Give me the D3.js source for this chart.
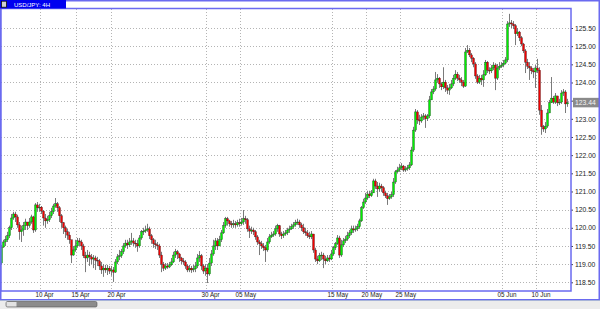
<!DOCTYPE html>
<html>
  <head>
    <meta charset="utf-8">
    <title>USD/JPY 4H</title>
    <style>
      body {
        overflow: hidden;
        margin: 0px;
        background: white;
      }

      .grid {
        stroke: #b4b4b4;
        stroke-width: 1px;
        stroke-dasharray: 1,2;
        shape-rendering: crispEdges;
      }

      .frame {
        fill: none;
        stroke: #6a6af0;
        stroke-width: 1.5px;
      }

      .axis text {
        font-family: "Liberation Sans", Arial, sans-serif;
        fill: #222;
      }

      .axis path, .axis line {
        stroke: #444;
      }

      .wick {
        stroke: #7a7a7a;
        stroke-width: 1px;
      }

      .body {
        stroke: #1a1a1a;
        stroke-width: 0.3px;
      }
    </style>
  </head>
  <body>
    <svg id="container" width="600" height="309"></svg>
    <script src="https://cdn.jsdelivr.net/npm/d3@7/dist/d3.min.js"></script>

    <script type="text/javascript">
      var firstOpen = 119.03;

      // 4H closes, 7 Apr - 12 Jun
      var closes = [
        119.47,119.61,119.67,119.78,120.00,120.27,120.38,120.30,120.08,119.89,
        119.94,120.06,120.16,120.06,120.16,120.30,119.94,120.63,120.55,120.57,
        120.46,120.27,120.19,120.22,120.33,120.44,120.60,120.66,120.55,120.33,
        120.14,120.00,119.89,119.80,119.67,119.25,119.39,119.50,119.64,119.61,
        119.50,119.23,119.17,119.25,119.20,119.14,119.17,119.11,119.09,118.95,
        118.84,118.89,118.84,118.89,118.81,118.84,118.78,119.06,119.20,119.23,
        119.34,119.50,119.58,119.53,119.61,119.64,119.58,119.56,119.50,119.72,
        119.89,119.91,119.94,119.97,119.78,119.67,119.56,119.53,119.50,119.25,
        119.00,118.89,118.95,118.92,118.98,119.06,119.25,119.34,119.28,119.17,
        119.09,119.06,118.95,118.84,118.89,118.84,118.87,118.95,119.17,119.23,
        118.95,118.81,118.89,118.73,119.03,119.28,119.50,119.64,119.50,119.67,
        119.86,120.06,120.25,120.19,120.11,120.08,120.11,120.08,120.14,120.11,
        120.16,120.25,120.22,119.97,119.91,119.94,119.89,119.75,119.61,119.56,
        119.50,119.45,119.39,119.61,119.75,119.80,119.83,119.97,120.06,119.83,
        119.78,119.83,119.86,119.94,119.97,120.03,120.08,120.14,120.16,120.08,
        120.00,119.89,119.86,119.78,119.75,119.83,119.39,119.14,119.09,119.23,
        119.25,119.14,119.09,119.17,119.14,119.28,119.45,119.56,119.72,119.25,
        119.53,119.64,119.69,119.78,119.86,119.97,119.94,119.97,120.03,120.19,
        120.55,120.71,120.82,120.93,120.88,120.96,121.29,121.15,121.07,121.15,
        121.10,120.96,120.88,120.80,120.85,120.91,121.26,121.54,121.59,121.65,
        121.70,121.59,121.62,121.65,121.73,122.14,122.69,123.19,122.97,122.94,
        123.05,123.08,123.00,123.08,123.52,123.74,123.82,124.07,124.12,123.96,
        123.88,124.01,123.85,123.79,123.85,123.96,124.12,124.23,124.12,124.07,
        124.01,123.90,124.84,124.89,124.76,124.67,124.51,124.18,124.01,124.12,
        124.07,124.21,124.56,124.34,124.32,124.40,124.48,124.12,124.40,124.45,
        124.48,124.53,124.62,125.61,125.64,125.61,125.56,125.34,125.39,125.23,
        125.06,124.87,124.56,124.45,124.40,124.32,124.29,124.40,124.34,123.24,
        122.78,122.72,122.80,123.16,123.44,123.57,123.46,123.63,123.44,123.46,
        123.71,123.74,123.41,123.44
      ];

      var highs = [
        119.53,119.67,119.78,119.89,120.06,120.38,120.44,120.44,120.36,120.16,
        120.06,120.16,120.25,120.16,120.27,120.36,120.33,120.68,120.71,120.66,
        120.60,120.49,120.38,120.33,120.44,120.55,120.66,120.82,120.71,120.60,
        120.38,120.16,120.06,119.97,119.89,119.67,119.50,119.67,119.72,119.72,
        119.67,119.56,119.34,119.39,119.34,119.28,119.25,119.23,119.20,119.14,
        119.06,119.00,118.98,118.98,118.95,118.95,118.92,119.14,119.28,119.39,
        119.42,119.58,119.67,119.67,119.72,119.86,119.72,119.67,119.67,119.80,
        119.94,120.00,120.06,120.11,120.03,119.83,119.72,119.67,119.61,119.56,
        119.34,119.06,119.03,119.03,119.06,119.17,119.34,119.42,119.39,119.31,
        119.20,119.17,119.11,119.00,118.98,118.95,118.98,119.06,119.28,119.36,
        119.28,119.00,119.00,119.00,119.17,119.39,119.67,119.72,119.72,119.78,
        119.94,120.16,120.30,120.30,120.22,120.19,120.22,120.19,120.22,120.25,
        120.27,120.49,120.33,120.27,120.06,120.03,120.00,119.94,119.80,119.67,
        119.64,119.58,119.53,119.72,119.83,119.89,119.91,120.06,120.11,120.08,
        119.89,119.91,119.94,120.00,120.06,120.11,120.16,120.22,120.25,120.22,
        120.14,120.11,120.00,119.94,119.89,119.91,119.78,119.45,119.23,119.31,
        119.34,119.31,119.23,119.25,119.25,119.39,119.50,119.61,119.80,119.78,
        119.67,119.72,119.78,119.89,119.94,120.06,120.06,120.06,120.11,120.25,
        120.60,120.80,120.96,121.02,121.02,121.04,121.35,121.35,121.26,121.24,
        121.21,121.15,121.02,120.96,120.93,120.99,121.37,121.59,121.68,121.76,
        121.78,121.73,121.70,121.73,121.81,122.23,122.78,123.27,123.24,123.11,
        123.13,123.16,123.13,123.13,123.63,123.82,123.90,124.29,124.23,124.15,
        124.01,124.42,124.07,123.93,123.96,124.07,124.21,124.34,124.29,124.21,
        124.15,124.07,124.95,125.03,124.95,124.81,124.70,124.56,124.23,124.21,
        124.21,124.34,124.62,124.59,124.42,124.48,124.56,124.53,124.51,124.56,
        124.56,124.62,124.70,125.69,125.89,125.72,125.69,125.61,125.50,125.42,
        125.28,125.09,124.92,124.65,124.56,124.45,124.40,124.48,124.65,124.42,
        123.38,122.83,122.91,123.27,123.52,124.15,123.63,123.71,123.57,123.55,
        123.79,123.82,123.79,123.55
      ];

      var lows = [
        118.98,119.45,119.50,119.61,119.72,119.94,120.22,120.16,120.00,119.67,
        119.61,119.78,119.94,119.94,120.00,120.11,119.86,119.89,120.44,120.44,
        120.38,120.06,120.00,120.11,120.16,120.27,120.38,120.55,120.44,120.16,
        120.00,119.83,119.72,119.67,119.56,119.03,119.23,119.34,119.45,119.50,
        119.39,119.17,118.78,119.06,118.95,119.00,118.89,118.84,118.95,118.84,
        118.73,118.65,118.76,118.70,118.73,118.68,118.51,118.76,119.00,119.11,
        119.17,119.28,119.45,119.42,119.47,119.53,119.50,119.45,119.34,119.45,
        119.67,119.80,119.86,119.89,119.69,119.56,119.45,119.42,119.39,119.17,
        118.78,118.81,118.84,118.87,118.89,118.95,119.03,119.17,119.14,119.06,
        119.00,118.98,118.87,118.78,118.78,118.76,118.78,118.78,118.89,119.06,
        118.84,118.73,118.68,118.48,118.68,118.95,119.23,119.39,119.39,119.50,
        119.61,119.83,120.00,120.06,120.03,120.00,120.00,120.00,120.03,120.03,
        120.06,120.08,120.11,119.89,119.72,119.83,119.80,119.67,119.53,119.25,
        119.42,119.36,119.06,119.34,119.56,119.72,119.75,119.78,119.89,119.75,
        119.69,119.72,119.78,119.80,119.86,119.94,119.97,120.03,120.08,120.00,
        119.91,119.83,119.78,119.72,119.69,119.69,119.31,119.06,119.00,119.06,
        119.11,118.89,119.00,119.06,119.06,119.11,119.23,119.39,119.53,119.17,
        119.20,119.47,119.58,119.64,119.72,119.80,119.86,119.89,119.91,119.97,
        120.16,120.52,120.66,120.77,120.82,120.85,120.96,121.07,120.85,120.99,
        120.99,120.88,120.82,120.63,120.77,120.80,120.85,121.21,121.51,121.54,
        121.59,121.54,121.54,121.57,121.59,121.70,122.09,122.64,122.86,122.83,
        122.89,122.97,122.75,122.94,123.02,123.52,123.68,123.77,123.99,123.85,
        123.79,123.82,123.74,123.68,123.66,123.82,123.90,124.07,124.04,123.99,
        123.90,123.85,123.88,124.81,124.70,124.56,124.42,124.10,123.96,123.96,
        123.93,123.88,124.18,124.26,124.23,124.26,124.34,123.79,124.07,124.34,
        124.40,124.42,124.51,124.56,125.53,125.50,125.47,125.03,125.28,125.14,
        125.00,124.81,124.26,124.37,124.07,124.23,124.12,123.85,124.26,123.11,
        122.56,122.64,122.61,122.75,123.19,123.46,123.41,123.41,123.35,123.38,
        123.41,123.63,123.16,123.33
      ];

      var priceTicks = [118.5, 119.0, 119.5, 120.0, 120.5, 121.0, 121.5, 122.0,
                        122.5, 123.0, 123.5, 124.0, 124.5, 125.0, 125.5];
      var dateTicks = [19, 37, 55, 102, 119, 165, 182, 199, 250, 267];
      var dateLabels = ['10 Apr', '15 Apr', '20 Apr', '30 Apr', '05 May',
                        '15 May', '20 May', '25 May', '05 Jun', '10 Jun'];
      var lastPrice = 123.44;
      var title = 'USD/JPY: 4H';

      var plot = { left: 1, right: 571, top: 8.5, bottom: 291 },
        container = d3.select('#container');

      var x = d3.scaleLinear().domain([0, closes.length - 1]).range([1.5, 567.5]);
      var y = d3.scaleLinear().domain([118.5, 125.5]).range([282.3, 28]);

      var candles = closes.map(function (c, i) {
        var o = i === 0 ? firstOpen : closes[i - 1];
        return { i: i, o: o, c: c, h: Math.max(highs[i], o, c), l: Math.min(lows[i], o, c) };
      });

      /*
        Grid
      */
      container.append('g').selectAll('line.h')
        .data(priceTicks).enter().append('line')
        .attr('class', 'grid')
        .attr('x1', plot.left).attr('x2', plot.right)
        .attr('y1', function (d) { return Math.round(y(d)) + 0.5; })
        .attr('y2', function (d) { return Math.round(y(d)) + 0.5; });

      container.append('g').selectAll('line.v')
        .data(dateTicks).enter().append('line')
        .attr('class', 'grid')
        .attr('x1', function (d) { return Math.round(x(d)) + 0.5; })
        .attr('x2', function (d) { return Math.round(x(d)) + 0.5; })
        .attr('y1', plot.top).attr('y2', plot.bottom);

      /*
        Candles
      */
      var g = container.append('g');

      g.selectAll('line.wick')
        .data(candles).enter().append('line')
        .attr('class', 'wick')
        .attr('x1', function (d) { return x(d.i); })
        .attr('x2', function (d) { return x(d.i); })
        .attr('y1', function (d) { return y(d.h); })
        .attr('y2', function (d) { return y(d.l); });

      g.selectAll('rect.body')
        .data(candles).enter().append('rect')
        .attr('class', 'body')
        .attr('x', function (d) { return x(d.i) - 1; })
        .attr('width', 2)
        .attr('y', function (d) { return y(Math.max(d.o, d.c)); })
        .attr('height', function (d) { return Math.max(0.9, Math.abs(y(d.o) - y(d.c))); })
        .attr('fill', function (d) { return d.c >= d.o ? '#00f000' : '#f00000'; });

      /*
        Axes
      */
      var yAxis = container.append('g')
        .attr('class', 'axis')
        .attr('transform', 'translate(' + plot.right + ',0)')
        .call(d3.axisRight(y).tickValues(priceTicks).tickFormat(d3.format('.2f')).tickSize(2).tickPadding(2));
      yAxis.select('.domain').remove();
      yAxis.selectAll('text').style('font-size', '6.8px');
      // the last price box sits over the nearest level label
      yAxis.selectAll('.tick')
        .filter(function (d) { return Math.abs(y(d) - y(lastPrice)) < 7; })
        .select('text').remove();

      var xAxis = container.append('g')
        .attr('class', 'axis')
        .attr('transform', 'translate(0,' + plot.bottom + ')')
        .call(d3.axisBottom(x).tickValues(dateTicks)
          .tickFormat(function (d, i) { return dateLabels[i]; }).tickSize(0).tickPadding(2));
      xAxis.select('.domain').remove();
      xAxis.selectAll('text')
        .style('font-size', '6.3px')
        .attr('text-anchor', 'start')
        .attr('dx', -4.5);

      // last price box
      container.append('rect')
        .attr('x', plot.right + 2).attr('y', y(lastPrice) - 5)
        .attr('width', 27).attr('height', 9.5)
        .attr('fill', '#8a8a8a');
      container.append('text')
        .attr('x', plot.right + 4).attr('y', y(lastPrice) + 2.3)
        .style('font', '6.8px "Liberation Sans", Arial, sans-serif')
        .attr('fill', '#f4f4f4')
        .text(d3.format('.2f')(lastPrice));

      /*
        Frames, title, scrollbar
      */
      container.append('rect').attr('class', 'frame')
        .attr('x', 0.75).attr('y', 0.75).attr('width', 598.5).attr('height', 299);
      container.append('rect').attr('class', 'frame')
        .attr('x', plot.left - 0.25).attr('y', plot.top)
        .attr('width', plot.right - plot.left + 0.25).attr('height', plot.bottom - plot.top);

      container.append('rect')
        .attr('x', 0).attr('y', 0).attr('width', 66).attr('height', 8.5)
        .attr('fill', '#0000f0');
      container.append('rect')
        .attr('x', 1.5).attr('y', 1.2).attr('width', 5).attr('height', 6)
        .attr('fill', '#d0d0d0').attr('stroke', '#111').attr('stroke-width', 0.8);
      container.append('text')
        .attr('x', 14).attr('y', 6.8)
        .style('font', '6px "Liberation Sans", Arial, sans-serif')
        .attr('fill', '#ffffff')
        .text(title);

      container.append('rect')
        .attr('x', 0).attr('y', 300).attr('width', 600).attr('height', 9)
        .attr('fill', '#ececec');
      container.append('line')
        .attr('x1', 0).attr('x2', 600).attr('y1', 300.5).attr('y2', 300.5)
        .attr('stroke', '#a8b4d8');
      container.append('rect')
        .attr('x', 6).attr('y', 301.5).attr('width', 91).attr('height', 5.5).attr('rx', 1.5)
        .attr('fill', '#8c8c8c').attr('stroke', '#555').attr('stroke-width', 0.6);
      container.append('rect')
        .attr('x', 6.5).attr('y', 302).attr('width', 10).attr('height', 4.5)
        .attr('fill', '#e2e2e2');
    </script>
  </body>
</html>
